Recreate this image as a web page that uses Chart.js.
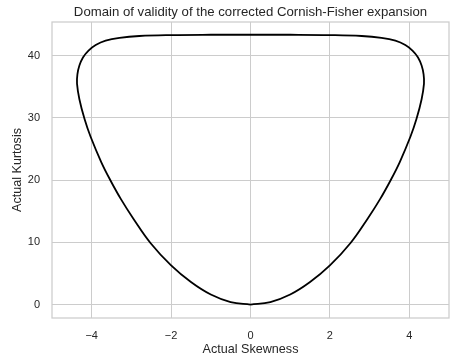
<!DOCTYPE html>
<html>
<head>
<meta charset="utf-8">
<script src="https://cdn.jsdelivr.net/npm/chart.js@4"></script>
<style>
  html, body { margin: 0; padding: 0; background: #ffffff; }
  canvas { display: block; }
</style>
</head>
<body>
<canvas id="c" width="461" height="362"></canvas>
<script>
// Boundary of the domain (closed curve)
const skewness = [
  0, -0.5, -1.0, -1.5, -2.0, -2.52, -2.95, -3.26, -3.54, -3.76, -4.03, -4.18,
  -4.31, -4.37, -4.36, -4.31, -4.22, -4.08, -3.9, -3.65, -3.3, -2.8, -2.0, -1.0,
  0, 1.0, 2.0, 2.8, 3.3, 3.65, 3.9, 4.08, 4.22, 4.31, 4.36, 4.37, 4.31, 4.18,
  4.03, 3.76, 3.54, 3.26, 2.95, 2.52, 2.0, 1.5, 1.0, 0.5, 0
];
const kurtosis = [
  0, 0.41, 1.62, 3.63, 6.3, 9.9, 13.8, 16.9, 20.1, 22.9, 27.0, 29.8,
  33.0, 35.5, 37.0, 38.4, 39.7, 40.8, 41.7, 42.4, 42.85, 43.15, 43.3, 43.35,
  43.35, 43.35, 43.3, 43.15, 42.85, 42.4, 41.7, 40.8, 39.7, 38.4, 37.0, 35.5, 33.0, 29.8,
  27.0, 22.9, 20.1, 16.9, 13.8, 9.9, 6.3, 3.63, 1.62, 0.41, 0
];
const xTicks = [-4, -2, 0, 2, 4];
const yTicks = [0, 10, 20, 30, 40];

const titleText = 'Domain of validity of the corrected Cornish-Fisher expansion';
const xLabel = 'Actual Skewness';
const yLabel = 'Actual Kurtosis';

const points = skewness.map((s, i) => ({ x: s, y: kurtosis[i] }));
const FONT = "'Liberation Sans', Arial, sans-serif";
const TXT = '#262626';
const GRID = '#cccccc';

const fmt = v => (v < 0 ? '\u2212' + Math.abs(v) : String(v));

const frame = {
  id: 'frame',
  afterDraw(chart) {
    const a = chart.chartArea, ctx = chart.ctx;
    ctx.save();
    ctx.strokeStyle = GRID;
    ctx.lineWidth = 1.25;
    ctx.strokeRect(a.left, a.top, a.right - a.left, a.bottom - a.top);
    ctx.fillStyle = TXT;
    ctx.font = "13.2px " + FONT;
    ctx.textAlign = 'center';
    ctx.textBaseline = 'middle';
    ctx.fillText(titleText, (a.left + a.right) / 2, 12);
    ctx.restore();
  }
};

new Chart(document.getElementById('c'), {
  type: 'scatter',
  data: {
    datasets: [{
      data: points,
      showLine: true,
      borderColor: '#000000',
      borderWidth: 1.8,
      pointRadius: 0,
      tension: 0.4,
      fill: false
    }]
  },
  options: {
    responsive: false,
    animation: false,
    layout: { padding: { left: 0, right: 12, top: 22, bottom: 0 } },
    plugins: {
      legend: { display: false },
      tooltip: { enabled: false },
      title: { display: false }
    },
    scales: {
      x: {
        type: 'linear',
        min: -5, max: 5,
        afterBuildTicks: s => { s.ticks = xTicks.map(v => ({ value: v })); },
        afterFit: s => { s.height = 44; },
        grid: { color: GRID, lineWidth: 1, drawTicks: false },
        border: { display: false },
        ticks: { color: TXT, font: { family: FONT, size: 11 }, padding: 11, callback: v => fmt(v), maxRotation: 0 },
        title: { display: true, text: xLabel, color: TXT, font: { family: FONT, size: 12.6 }, padding: { top: 0, bottom: 5 } }
      },
      y: {
        type: 'linear',
        min: -2.15, max: 45.4,
        afterBuildTicks: s => { s.ticks = yTicks.map(v => ({ value: v })); },
        afterFit: s => { s.width = 52; },
        grid: { color: GRID, lineWidth: 1, drawTicks: false },
        border: { display: false },
        ticks: { color: TXT, font: { family: FONT, size: 11 }, padding: 12, callback: v => fmt(v) },
        title: { display: true, text: yLabel, color: TXT, font: { family: FONT, size: 12.6 }, padding: { top: 10, bottom: 0 } }
      }
    }
  },
  plugins: [frame]
});
</script>
</body>
</html>
